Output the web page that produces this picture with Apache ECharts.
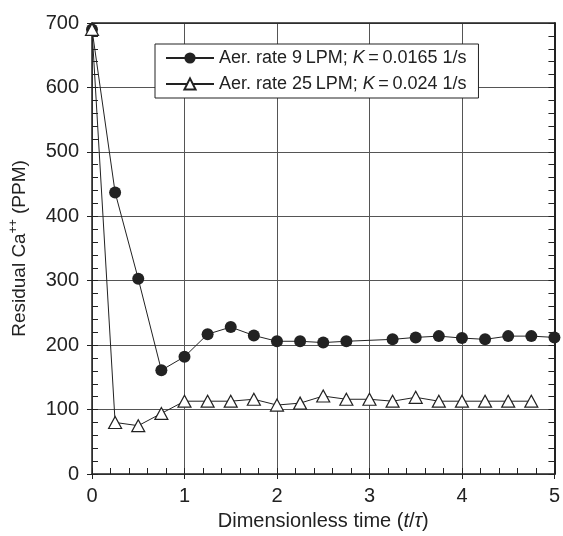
<!DOCTYPE html>
<html>
<head>
<meta charset="utf-8">
<script src="https://cdn.jsdelivr.net/npm/echarts@6/dist/echarts.min.js"></script>
<style>html,body{margin:0;padding:0;background:#fff}#c{width:563px;height:536px}</style>
</head>
<body>
<div id="c"></div>
<script>
// ---- data ----
var time9 = [0, 0.25, 0.5, 0.75, 1, 1.25, 1.5, 1.75, 2, 2.25, 2.5, 2.75, 3.25, 3.5, 3.75, 4, 4.25, 4.5, 4.75, 5];
var ca9   = [690, 437, 303, 161, 182, 217, 228, 215, 206, 206, 204, 206, 209, 212, 214, 211, 209, 214, 214, 212];
var time25 = [0, 0.25, 0.5, 0.75, 1, 1.25, 1.5, 1.75, 2, 2.25, 2.5, 2.75, 3, 3.25, 3.5, 3.75, 4, 4.25, 4.5, 4.75];
var ca25   = [690, 80, 75, 94, 113, 113, 113, 116, 107, 110, 121, 116, 116, 113, 119, 113, 113, 113, 113, 113];
var seriesNames = ['Aer. rate 9 LPM; K = 0.0165 1/s', 'Aer. rate 25 LPM; K = 0.024 1/s'];
var legendRich = {
  0: '{a|Aer. rate 9\u2009LPM; }{i|K}{a|\u2009=\u20090.0165 1/s}',
  1: '{a|Aer. rate 25\u2009LPM; }{i|K}{a|\u2009=\u20090.024 1/s}'
};
var xTicks = {min: 0, max: 5, interval: 1};
var yTicks = {min: 0, max: 700, interval: 100};

function zip(a, b) { return a.map(function (v, i) { return [v, b[i]]; }); }

var FONT = 'Liberation Sans, Arial, Helvetica, sans-serif';
var INK = '#222';
var GRIDC = '#555';

var chart = echarts.init(document.getElementById('c'), null, {renderer: 'canvas'});
var option = {
  animation: false,
  backgroundColor: '#fff',
  textStyle: {fontFamily: FONT},
  grid: {left: 91, right: 6, top: 23, bottom: 60, containLabel: false},
  legend: {
    orient: 'vertical',
    left: 155, top: 44,
    itemWidth: 48, itemHeight: 14,
    itemGap: 8,
    padding: [5, 12, 5, 10],
    backgroundColor: '#fff',
    borderColor: INK, borderWidth: 1, borderRadius: 0,
    data: seriesNames,
    formatter: function (name) { return legendRich[seriesNames.indexOf(name)]; },
    textStyle: {
      color: INK, fontSize: 18, fontFamily: FONT,
      rich: {
        a: {fontSize: 18, fontFamily: FONT, color: INK},
        i: {fontSize: 18, fontFamily: FONT, fontStyle: 'italic', color: INK}
      }
    }
  },
  xAxis: [
    {
      type: 'value', position: 'bottom', min: xTicks.min, max: xTicks.max, interval: xTicks.interval,
      axisLine: {show: true, onZero: false, lineStyle: {color: INK, width: 1.5}},
      axisTick: {show: true, inside: true, length: 6, lineStyle: {color: INK}},
      minorTick: {show: true, splitNumber: 5, length: 6, lineStyle: {color: INK}},
      splitLine: {show: true, lineStyle: {color: GRIDC, width: 1}},
      axisLabel: {color: INK, fontSize: 20, margin: 12, fontFamily: FONT},
      name: '{a|Dimensionless time (}{i|t}{a|/}{i|\u03c4}{a|)}',
      nameLocation: 'middle', nameGap: 37,
      nameTextStyle: {
        color: INK, fontSize: 20, fontFamily: FONT,
        rich: {a: {fontSize: 20, fontFamily: FONT, color: INK}, i: {fontSize: 20, fontFamily: FONT, fontStyle: 'italic', color: INK}}
      }
    },
    {
      type: 'value', position: 'bottom', min: xTicks.min, max: xTicks.max, interval: xTicks.interval,
      axisLine: {show: false, onZero: false},
      axisTick: {show: true, inside: false, length: 5, lineStyle: {color: INK}},
      splitLine: {show: false}, axisLabel: {show: false}
    },
    {
      type: 'value', position: 'top', min: xTicks.min, max: xTicks.max, interval: xTicks.interval,
      axisLine: {show: true, onZero: false, lineStyle: {color: INK, width: 1.5}},
      axisTick: {show: false},
      splitLine: {show: false}, axisLabel: {show: false}
    }
  ],
  yAxis: [
    {
      type: 'value', position: 'left', min: yTicks.min, max: yTicks.max, interval: yTicks.interval,
      axisLine: {show: true, onZero: false, lineStyle: {color: INK, width: 1.5}},
      axisTick: {show: true, inside: true, length: 6, lineStyle: {color: INK}},
      minorTick: {show: true, splitNumber: 5, length: 6, lineStyle: {color: INK}},
      splitLine: {show: true, lineStyle: {color: GRIDC, width: 1}},
      axisLabel: {color: INK, fontSize: 20, margin: 13, fontFamily: FONT},
      name: '{a|Residual Ca}{s|++}{a| (PPM)}',
      nameLocation: 'middle', nameGap: 60, nameRotate: 90,
      nameTextStyle: {
        color: INK, fontSize: 19, fontFamily: FONT,
        rich: {
          a: {fontSize: 19, fontFamily: FONT, color: INK, lineHeight: 24},
          s: {fontSize: 12, fontFamily: FONT, color: INK, verticalAlign: 'top', lineHeight: 24, padding: [0, 0, 10, 0]}
        }
      }
    },
    {
      type: 'value', position: 'left', min: yTicks.min, max: yTicks.max, interval: yTicks.interval,
      axisLine: {show: false, onZero: false},
      axisTick: {show: true, inside: false, length: 5, lineStyle: {color: INK}},
      splitLine: {show: false}, axisLabel: {show: false}
    },
    {
      type: 'value', position: 'right', min: yTicks.min, max: yTicks.max, interval: yTicks.interval,
      axisLine: {show: true, onZero: false, lineStyle: {color: INK, width: 2}},
      axisTick: {show: true, inside: true, length: 6, lineStyle: {color: INK}},
      minorTick: {show: true, splitNumber: 5, length: 6, lineStyle: {color: INK}},
      splitLine: {show: false}, axisLabel: {show: false}
    }
  ],
  series: [
    {
      name: seriesNames[0], type: 'line', xAxisIndex: 0, yAxisIndex: 0,
      data: zip(time9, ca9),
      symbol: 'circle', symbolSize: 12,
      lineStyle: {color: INK, width: 1},
      itemStyle: {color: INK, borderColor: INK, borderWidth: 0},
      z: 3
    },
    {
      name: seriesNames[1], type: 'line', xAxisIndex: 0, yAxisIndex: 0,
      data: zip(time25, ca25),
      symbol: 'triangle', symbolSize: [13, 12],
      lineStyle: {color: INK, width: 1},
      itemStyle: {color: '#fff', borderColor: INK, borderWidth: 1.2},
      z: 4
    }
  ]
};
chart.setOption(option);
</script>
</body>
</html>
